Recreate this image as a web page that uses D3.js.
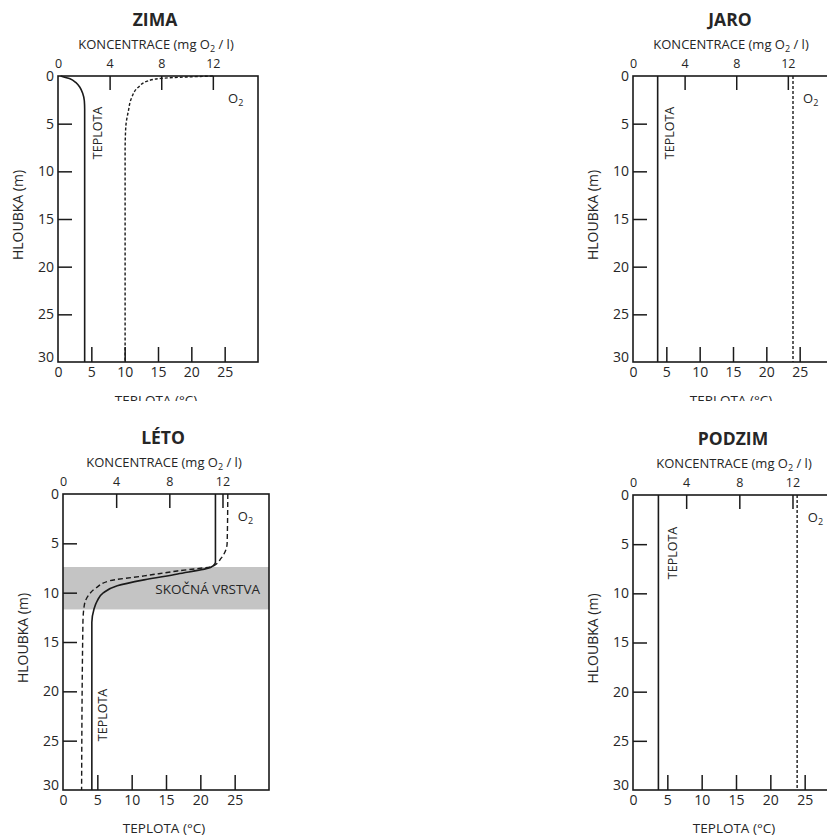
<!DOCTYPE html>
<html>
<head>
<meta charset="utf-8">
<script src="https://cdn.jsdelivr.net/npm/d3@7"></script>
<style>
  body { margin: 0; background: #fff; }
  text { font-family: "Open Sans", sans-serif; fill: #262626; }
</style>
</head>
<body>
<svg width="827" height="838"></svg>
<script>
/* Hodnoty os */
var hloubkaTicks = [0, 5, 10, 15, 20, 25, 30];
var teplotaTicks = [0, 5, 10, 15, 20, 25];
var koncTicks = [0, 4, 8, 12];

/* Profily: [hloubka (m), hodnota] - teplota ve °C, kyslik v mg O2 / l */
var zimaTeplota = [[0, 0.4], [0.3, 1.8], [0.7, 2.7], [1.2, 3.3], [1.8, 3.7], [2.6, 3.95], [3.5, 4], [30, 4]];
var zimaKyslik = [[0, 12], [0.1, 10], [0.25, 8], [0.5, 7], [1.2, 6.2], [2.3, 5.7], [3.7, 5.45], [5.4, 5.25], [8, 5.2], [30, 5.2]];

var jaroTeplota = [[0, 3.7], [30, 3.7]];
var jaroKyslik = [[0, 12.4], [30, 12.4]];

var letoTeplota = [[0, 22.2], [6.9, 22.2], [7.4, 21.6], [8.1, 16.7], [8.7, 11.8], [9.3, 7.9], [10, 5.9], [10.8, 5.0], [11.7, 4.5], [13, 4.2], [30, 4.2]];
var letoKyslik = [[0, 12.4], [5, 12.35], [6.5, 11.9], [7.3, 11.3], [7.8, 8.6], [8.3, 6.1], [8.8, 3.5], [9.5, 2.5], [10.3, 1.9], [11.3, 1.6], [13, 1.5], [30, 1.4]];
var skocnaVrstva = [7.4, 11.7];

var podzimTeplota = [[0, 3.7], [30, 3.7]];
var podzimKyslik = [[0, 12.35], [30, 12.35]];

var svg = d3.select("svg");

/* Horni rada je oriznuta jako v originale */
svg.append("clipPath").attr("id", "horni")
  .append("rect").attr("x", 0).attr("y", 0).attr("width", 827).attr("height", 401);

var panels = [
  {title: "ZIMA", x: 58, y: 76, w: 200, h: 286, teplota: zimaTeplota, kyslik: zimaKyslik, dash: "3,2", tLab: [44, 57], clip: true},
  {title: "JARO", x: 633, y: 76, w: 200, h: 286, teplota: jaroTeplota, kyslik: jaroKyslik, dash: "3,2", tLab: [41, 57], clip: true},
  {title: "LÉTO", x: 63, y: 494, w: 206, h: 296, teplota: letoTeplota, kyslik: letoKyslik, dash: "5,3", tLab: [44, 221], band: skocnaVrstva},
  {title: "PODZIM", x: 633, y: 495, w: 206, h: 295, teplota: podzimTeplota, kyslik: podzimKyslik, dash: "3,2", tLab: [44, 58]}
];

panels.forEach(drawPanel);

function drawPanel(p) {
  var g = svg.append("g")
      .attr("transform", "translate(" + p.x + "," + p.y + ")");
  if (p.clip) {
    g = svg.append("g").attr("clip-path", "url(#horni)")
      .append("g").attr("transform", "translate(" + p.x + "," + p.y + ")");
  }

  var y = d3.scaleLinear().domain([0, 30]).range([0, p.h]);
  var xT = d3.scaleLinear().domain([0, 30]).range([0, p.w]);
  var xK = d3.scaleLinear().domain([0, 15.5]).range([0, p.w]);

  /* Skocna vrstva */
  if (p.band) {
    g.append("rect")
      .attr("x", 0)
      .attr("y", y(p.band[0]))
      .attr("width", p.w)
      .attr("height", y(p.band[1]) - y(p.band[0]))
      .attr("fill", "#c4c4c4");
    g.append("text")
      .attr("x", p.w - 9)
      .attr("y", (y(p.band[0]) + y(p.band[1])) / 2 + 1)
      .attr("dy", "0.35em")
      .attr("text-anchor", "end")
      .attr("font-size", 13.5)
      .text("SKOČNÁ VRSTVA");
  }

  /* Osy */
  var top = g.append("g")
      .call(d3.axisTop(xK).tickValues(koncTicks).tickSize(-14).tickPadding(8).tickSizeOuter(0));
  var bottom = g.append("g")
      .attr("transform", "translate(0," + p.h + ")")
      .call(d3.axisBottom(xT).tickValues(teplotaTicks).tickSize(-15).tickPadding(5).tickSizeOuter(0));
  var left = g.append("g")
      .call(d3.axisLeft(y).tickValues(hloubkaTicks).tickSize(-14).tickPadding(4).tickSizeOuter(0));

  [top, bottom, left].forEach(function(a) {
    a.select(".domain").remove();
    a.selectAll(".tick line")
      .attr("stroke", "#1a1a1a")
      .attr("stroke-width", 1.5)
      .filter(function(d) { return d === 0 || d === 30; }).remove();
    a.selectAll(".tick text")
      .attr("fill", "#262626")
      .attr("font-family", "'Open Sans', sans-serif");
  });
  top.selectAll(".tick text").attr("font-size", 12.5);
  bottom.selectAll(".tick text").attr("font-size", 14);
  left.selectAll(".tick text").attr("font-size", 14)
    .filter(function(d) { return d === 30; }).attr("dy", "-0.05em");

  /* Profily */
  var line = d3.line()
      .curve(d3.curveMonotoneY);

  g.append("path")
    .datum(p.teplota)
    .attr("fill", "none")
    .attr("stroke", "#1a1a1a")
    .attr("stroke-width", 1.6)
    .attr("d", line.x(function(d) { return xT(d[1]); }).y(function(d) { return y(d[0]); }));

  g.append("path")
    .datum(p.kyslik)
    .attr("fill", "none")
    .attr("stroke", "#1a1a1a")
    .attr("stroke-width", 1.4)
    .attr("stroke-dasharray", p.dash)
    .attr("d", line.x(function(d) { return xK(d[1]); }).y(function(d) { return y(d[0]); }));

  /* Ramecek */
  g.append("rect")
    .attr("width", p.w)
    .attr("height", p.h)
    .attr("fill", "none")
    .attr("stroke", "#1a1a1a")
    .attr("stroke-width", 1.6);

  /* Popisky */
  var cx = p.w / 2 - 3;
  g.append("text")
    .attr("x", cx)
    .attr("y", -50)
    .attr("text-anchor", "middle")
    .attr("font-size", 17.5)
    .attr("font-weight", "bold")
    .text(p.title);

  var k = g.append("text")
    .attr("x", cx + 1)
    .attr("y", -27)
    .attr("text-anchor", "middle")
    .attr("font-size", 13);
  k.append("tspan").text("KONCENTRACE (mg O");
  k.append("tspan").attr("font-size", 9).attr("dy", 3).text("2");
  k.append("tspan").attr("dy", -3).text(" / l)");

  g.append("text")
    .attr("x", cx + 1)
    .attr("y", p.h + 43)
    .attr("text-anchor", "middle")
    .attr("font-size", 13.5)
    .text("TEPLOTA (°C)");

  g.append("text")
    .attr("transform", "translate(-35," + (p.h / 2 - 4) + ") rotate(-90)")
    .attr("text-anchor", "middle")
    .attr("font-size", 14)
    .text("HLOUBKA (m)");

  g.append("text")
    .attr("transform", "translate(" + p.tLab[0] + "," + p.tLab[1] + ") rotate(-90)")
    .attr("text-anchor", "middle")
    .attr("font-size", 12.5)
    .text("TEPLOTA");

  var o = g.append("text")
    .attr("x", xK(12.4) + 10)
    .attr("y", 27)
    .attr("font-size", 13);
  o.append("tspan").text("O");
  o.append("tspan").attr("font-size", 9).attr("dy", 3).text("2");
}
</script>
</body>
</html>
